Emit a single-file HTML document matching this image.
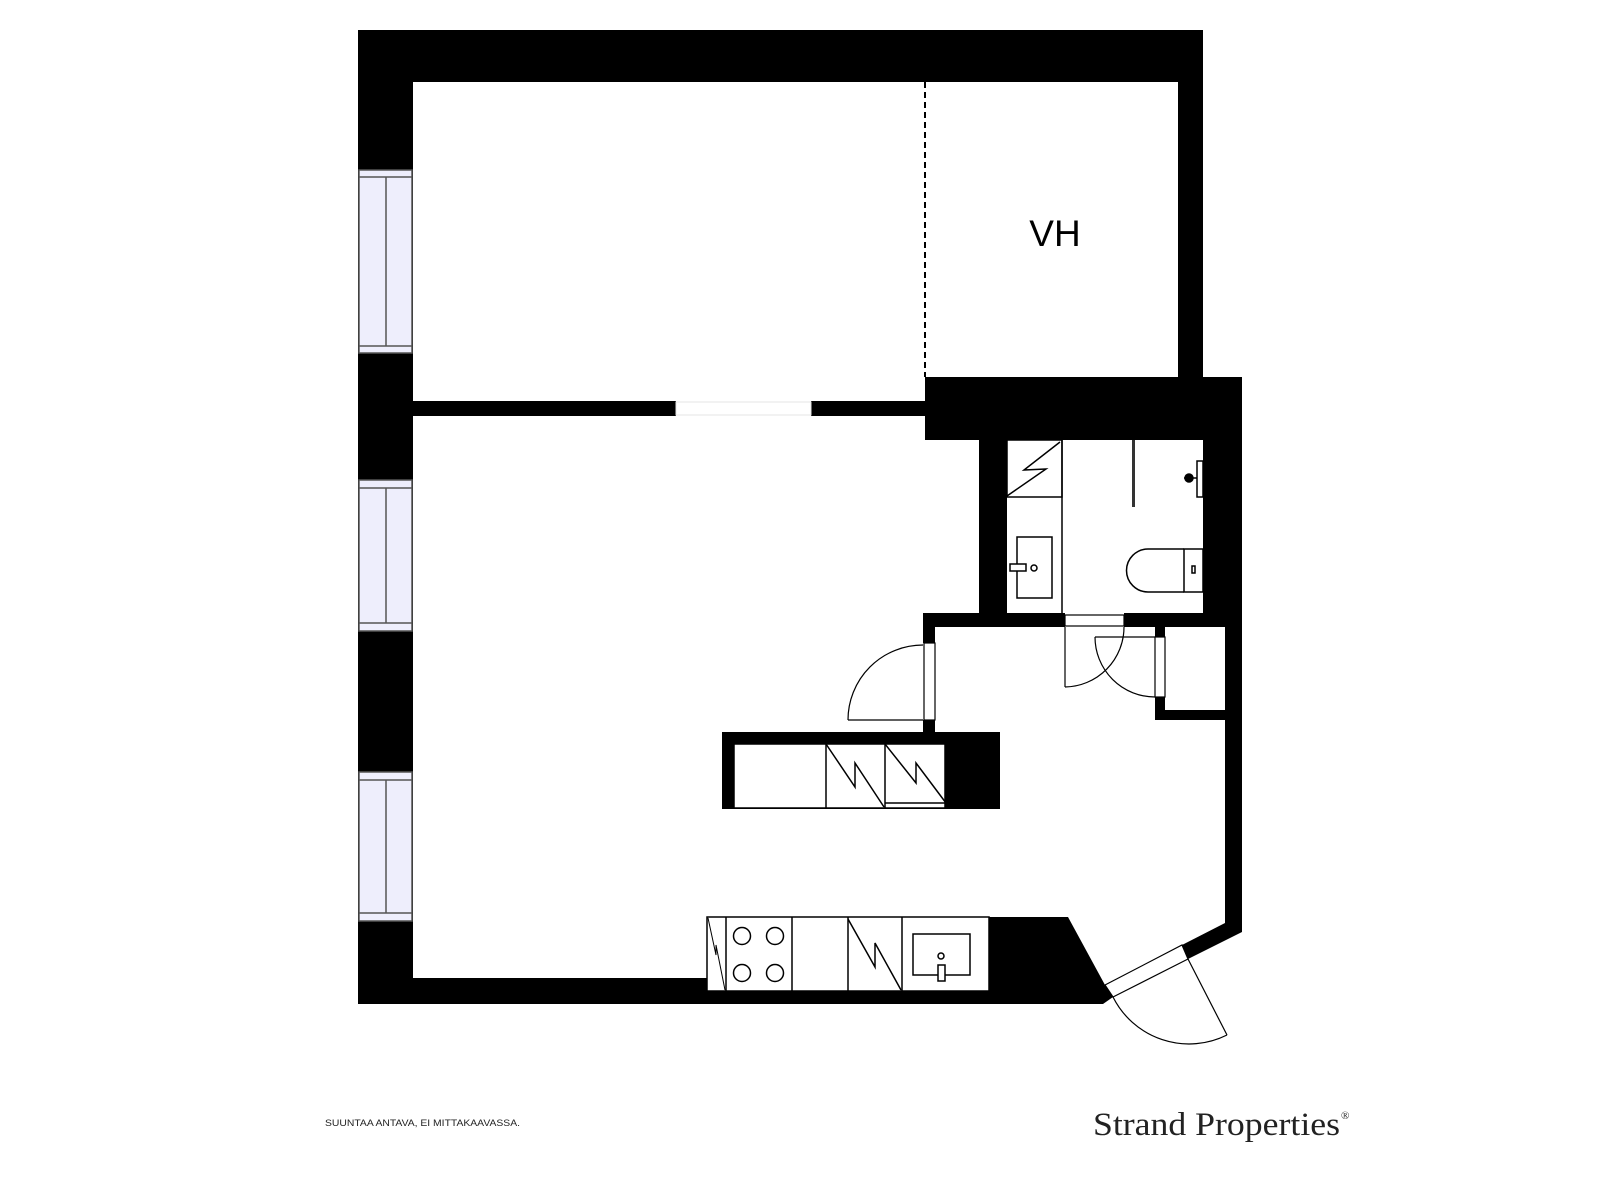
<!DOCTYPE html>
<html><head><meta charset="utf-8"><style>html,body{margin:0;padding:0;background:#fff;}svg{display:block;}</style></head>
<body>
<svg width="1600" height="1200" viewBox="0 0 1600 1200" xmlns="http://www.w3.org/2000/svg">
<rect width="1600" height="1200" fill="#fff"/>
<g fill="#000">
<rect x="358" y="30" width="845" height="52"/>
<rect x="1178" y="30" width="25" height="350"/>
<rect x="358" y="30" width="55" height="974"/>
<rect x="358" y="978" width="642" height="26"/>
<rect x="413" y="401" width="263" height="15"/>
<rect x="811" y="401" width="114" height="15"/>
<rect x="925" y="377" width="317" height="63"/>
<rect x="979" y="377" width="28" height="250"/>
<rect x="1203" y="377" width="39" height="250"/>
<rect x="923" y="613" width="142" height="14"/>
<rect x="1124" y="613" width="118" height="14"/>
<rect x="923" y="613" width="12" height="30"/>
<rect x="923" y="720" width="12" height="14"/>
<rect x="1155" y="613" width="10" height="107"/>
<rect x="1155" y="710" width="70" height="10"/>
<rect x="1225" y="613" width="17" height="310"/>
<polygon points="1225,923 1242,923 1242,932 1188,959 1182,945"/>
<rect x="722" y="732" width="278" height="77"/>
<polygon points="989,917 1068,917 1105,985 1113,997 1103,1004 989,1004"/>
</g>
<g fill="#eeeefc" stroke="#555" stroke-width="1.5">
<rect x="359" y="170" width="53" height="183"/>
<rect x="359" y="480" width="53" height="151"/>
<rect x="359" y="772" width="53" height="149"/>
</g>
<g stroke="#555" stroke-width="1.5">
<line x1="359" y1="177" x2="412" y2="177"/><line x1="359" y1="346" x2="412" y2="346"/><line x1="386" y1="177" x2="386" y2="346"/>
<line x1="359" y1="488" x2="412" y2="488"/><line x1="359" y1="623" x2="412" y2="623"/><line x1="386" y1="488" x2="386" y2="623"/>
<line x1="359" y1="780" x2="412" y2="780"/><line x1="359" y1="913" x2="412" y2="913"/><line x1="386" y1="780" x2="386" y2="913"/>
</g>
<rect x="676" y="402" width="135" height="13" fill="#fff" stroke="#e4e4e4" stroke-width="1"/>
<line x1="925" y1="82" x2="925" y2="377" stroke="#000" stroke-width="2" stroke-dasharray="6,4"/>
<text x="1055" y="246" font-family="Liberation Sans, sans-serif" font-size="37" text-anchor="middle">VH</text>
<g fill="none" stroke="#000" stroke-width="1.5">
<rect x="734" y="744" width="211" height="64" fill="#fff"/>
<line x1="826" y1="744" x2="826" y2="808"/><line x1="885" y1="744" x2="885" y2="808"/>
<polyline points="826,744 855,787 855,763 884,807"/>
<polyline points="885,744 916,783 916,763 946,803"/>
<line x1="885" y1="803" x2="945" y2="803"/>
<rect x="707" y="917" width="282" height="74" fill="#fff"/>
<line x1="726" y1="917" x2="726" y2="991"/><line x1="792" y1="917" x2="792" y2="991"/><line x1="848" y1="917" x2="848" y2="991"/><line x1="902" y1="917" x2="902" y2="991"/>
<polyline points="708,918 716,955 716,945 725,990" stroke-width="1"/>
<polyline points="848,919 875,967 875,943 901,990"/>
<circle cx="742" cy="936" r="8.5"/><circle cx="775" cy="936" r="8.5"/>
<circle cx="742" cy="973" r="8.5"/><circle cx="775" cy="973" r="8.5"/>
<rect x="913" y="934" width="57" height="41"/>
<rect x="938" y="965" width="7" height="16" fill="#fff"/>
<circle cx="941" cy="956" r="3"/>
<rect x="1007" y="440" width="55" height="57"/>
<line x1="1062" y1="440" x2="1062" y2="613"/>
<polyline points="1007,496 1046,469 1024,470 1060,442"/>
<rect x="1017" y="537" width="35" height="61"/>
<rect x="1010" y="564" width="16" height="7" fill="#fff"/>
<circle cx="1034" cy="568" r="3"/>
<path d="M1184,549 H1148 A21.5,21.5 0 0 0 1148,592 H1184"/>
<rect x="1184" y="549" width="19" height="43"/>
<rect x="1192" y="566" width="3" height="7"/>
<rect x="1197" y="461" width="6" height="36"/>
<line x1="1184" y1="478" x2="1197" y2="478"/>
<circle cx="1189" cy="478" r="4" fill="#000"/>
</g>
<rect x="1132" y="440" width="3" height="67" fill="#333"/>
<g fill="none" stroke="#000" stroke-width="1.2">
<rect x="1065" y="615" width="59" height="11" fill="#fff"/>
<line x1="1065" y1="627" x2="1065" y2="687"/>
<path d="M1065,687 A60,60 0 0 0 1124,627"/>
<line x1="1095" y1="637" x2="1155" y2="637"/>
<path d="M1095,637 A60,60 0 0 0 1155,697"/>
<rect x="1155" y="637" width="10" height="60" fill="#fff"/>
<rect x="924" y="643" width="11" height="77" fill="#fff"/>
<line x1="848" y1="720" x2="923" y2="720"/>
<path d="M848,720 A75,75 0 0 1 923,645"/>
<polygon points="1105,985 1182,945 1188,959 1113,997" fill="#fff"/>
<line x1="1188" y1="959" x2="1227" y2="1035"/>
<path d="M1113,997 A85,85 0 0 0 1227,1035"/>
</g>
<text x="325" y="1126" font-family="Liberation Sans, sans-serif" font-size="9" textLength="195" lengthAdjust="spacingAndGlyphs" fill="#222">SUUNTAA ANTAVA, EI MITTAKAAVASSA.</text>
<text x="1093" y="1135" font-family="Liberation Serif, serif" font-size="33" textLength="247" lengthAdjust="spacingAndGlyphs" fill="#222">Strand Properties</text>
<text x="1341" y="1119" font-family="Liberation Serif, serif" font-size="11" fill="#222">®</text>
</svg>
</body></html>
